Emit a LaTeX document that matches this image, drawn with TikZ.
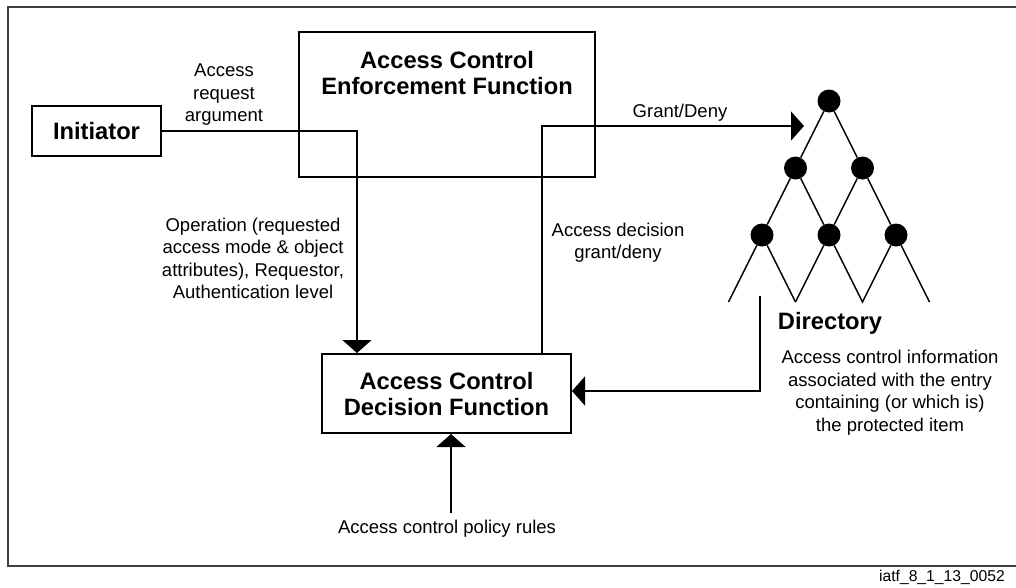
\documentclass[tikz,border=0pt]{standalone}
\usepackage{fontspec}
\setmainfont{Liberation Sans}
\usetikzlibrary{arrows.meta}

\begin{document}
\begin{tikzpicture}[x=1pt, y=-1pt, line cap=butt, line join=miter,
    box/.style={draw, line width=2pt, inner sep=0pt},
    title/.style={align=center, inner sep=0pt, font=\fontsize{23.7}{26.5}\selectfont\bfseries},
    txt/.style={align=center, inner sep=0pt, font=\fontsize{18.5}{22.5}\selectfont},
    conn/.style={draw, line width=1.5pt},
    tip/.style={-{Triangle[length=13pt,width=29pt]}},
    dot/.style={circle, fill, inner sep=0pt, minimum size=23pt},
    leg/.style={line width=1.5pt}]

  %% ==== frame (right edge runs off the page) ====
  \draw[line width=2pt, black!75] (1016,7) -- (8,7) -- (8,566) -- (1016,566);

  %% ==== boxes ====
  \node[box, minimum width=129pt, minimum height=50pt] (init) at (96.5,131) {};
  \node[title] at (96.5,131) {Initiator};

  \node[box, minimum width=296pt, minimum height=145pt] (acef) at (447,104.5) {};
  \node[title] (aceftxt) at (447,73) {Access Control\\Enforcement Function};

  \node[box, minimum width=249pt, minimum height=79pt] (acdf) at (446.5,393.5) {};
  \node[title] at (446.5,394) {Access Control\\Decision Function};

  %% ==== directory tree ====
  \node[dot] (t1) at (829,101) {};
  \node[dot] (t2) at (795.5,168) {};
  \node[dot] (t3) at (862.5,168) {};
  \node[dot] (t4) at (762,235) {};
  \node[dot] (t5) at (829,235) {};
  \node[dot] (t6) at (896,235) {};
  \coordinate (b1) at (728.5,302);
  \coordinate (b2) at (795.5,302);
  \coordinate (b3) at (862.5,302);
  \coordinate (b4) at (929.5,302);
  \draw[leg] (t1) -- (t2) -- (t4) -- (b1);
  \draw[leg] (t1) -- (t3) -- (t6) -- (b4);
  \draw[leg] (t2) -- (t5) -- (t3);
  \draw[leg] (b2) -- (t4);
  \draw[leg] (b2) -- (t5) -- (b3) -- (t6);

  %% ==== labels ====
  \node[txt] (reqlbl) at (224,95) {Access\\request\\argument};
  \node[txt] (oplbl) at (253,258.5) {Operation (requested\\access mode \& object\\attributes), Requestor,\\Authentication level};
  \node[txt] (gdlbl) at (680,113) {Grant/Deny};
  \node[txt] (declbl) at (618,242.5) {Access decision\\grant/deny};
  \node[title] (dir) at (830,323) {Directory};
  \node[txt] (infolbl) at (890,392.5) {Access control information\\associated with the entry\\containing (or which is)\\the protected item};
  \node[txt] (policy) at (447,529) {Access control policy rules};
  \node[anchor=east, inner sep=0pt, font=\fontsize{15.7}{18}\selectfont] (figid) at (1005,577) {iatf\_8\_1\_13\_0052};

  %% ==== connectors ====
  \coordinate (gdend) at (804,126);
  \coordinate (dirfoot) at (760,296);
  \draw[conn, tip] (init.east) -| ([xshift=36pt]acdf.north west);
  \draw[conn, tip] ([xshift=-30pt]acdf.north east) |- (gdend);
  \draw[conn, tip] (dirfoot) |- ([yshift=2.5pt]acdf.east);
  \draw[conn, tip] ([xshift=4.5pt]acdf.south |- 0,513) -- ([xshift=4.5pt]acdf.south);

  \pgfresetboundingbox
  \path[use as bounding box] (0,0) rectangle (1016,587);
\end{tikzpicture}
\end{document}
